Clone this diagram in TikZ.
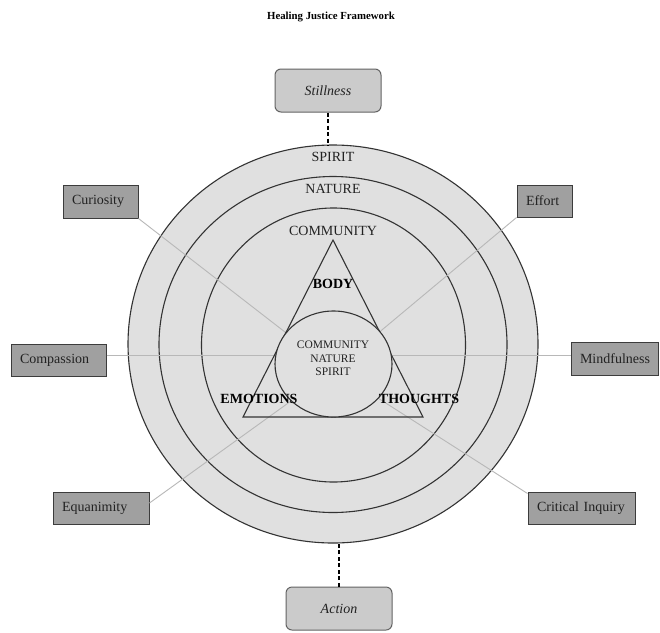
\documentclass[tikz,border=0pt]{standalone}
\usepackage{fontspec}
\setmainfont{Liberation Serif}
\definecolor{ringfill}{HTML}{E0E0E0}
\definecolor{ringdraw}{HTML}{333333}
\definecolor{boxfill}{HTML}{A0A0A0}
\definecolor{boxdraw}{HTML}{3C3C3C}
\definecolor{softfill}{HTML}{CBCBCB}
\definecolor{linkgray}{HTML}{B8B8B8}
\definecolor{txt}{HTML}{222222}
\tikzset{
  ring/.style={draw=ringdraw, fill=ringfill, line width=1.1pt},
  sqbox/.style={draw=boxdraw, fill=boxfill, line width=1pt, inner xsep=9pt, inner ysep=0pt,
     align=left, text=txt, font=\fontsize{14}{16}\selectfont},
  rbox/.style={draw=boxdraw!80, fill=softfill, line width=1pt, rounded corners=6pt, inner sep=0pt,
     text=txt, font=\fontsize{14}{16}\selectfont\itshape, minimum width=106pt, minimum height=43pt},
  link/.style={draw=linkgray, line width=0.9pt},
  dashlink/.style={draw=black, line width=2pt, dash pattern=on 4pt off 2.5pt},
  lbl/.style={text=txt, font=\fontsize{14}{16}\selectfont, inner sep=0pt},
  blbl/.style={text=black, font=\fontsize{14}{16}\selectfont\bfseries, inner sep=0pt}
}
\begin{document}
\begin{tikzpicture}[x=1pt,y=-1pt]
\useasboundingbox (0,0) rectangle (660,632);
\fill[white] (0,0) rectangle (660,632);
\node[font=\fontsize{10.8}{12}\selectfont\bfseries, inner sep=0pt] (title) at (331,17) {Healing Justice Framework};

% rings
\draw[ring] (333,344) ellipse [x radius=205, y radius=199];
\draw[ring] (333,344.5) ellipse [x radius=174, y radius=168];
\draw[ring] (333.5,345) ellipse [x radius=132, y radius=137];

% boxes
\node[sqbox, minimum width=75pt, minimum height=33pt, text width=57pt] (cur) at (100.5,201.5) {Curiosity};
\node[sqbox, minimum width=55pt, minimum height=32pt, text width=37pt] (eff) at (544.5,201) {Effort};
\node[sqbox, minimum width=95pt, minimum height=32pt, text width=77pt] (comp) at (58.5,360) {Compassion};
\node[sqbox, minimum width=87pt, minimum height=33pt, text width=69pt] (mind) at (614.5,358.5) {Mindfulness};
\node[sqbox, minimum width=96pt, minimum height=32pt, text width=78pt] (equ) at (101,508) {Equanimity};
\node[sqbox, minimum width=107pt, minimum height=32pt, text width=89pt] (crit) at (581.5,508) {Critical Inquiry};
\node[rbox] (still) at (328,90.5) {Stillness};
\node[rbox] (act) at (339,608.5) {Action};

% connectors
\coordinate (hub) at (334,370);
\coordinate (outertop) at (0,145.2);
\coordinate (outerbot) at (0,542.8);
\draw[link] (cur.south east) -- (hub);
\draw[link] (eff.south west) -- (hub);
\draw[link] ([yshift=5pt]equ.east) -- (hub);
\draw[link] ([yshift=-2pt]crit.north west) -- (hub);
\draw[link] ([yshift=5pt]comp.east) -- ([yshift=3.5pt]mind.west);
\draw[dashlink] (still.south) -- (still.south |- outertop);
\draw[dashlink] (act.north) -- (act.north |- outerbot);

% triangle and inner circle
\coordinate (tA) at (333,240);
\coordinate (tB) at (243,417);
\coordinate (tC) at (423,417);
\draw[draw=ringdraw, line width=1.1pt] (tA) -- (tB) -- (tC) -- cycle;
\draw[ring] (333.5,364) ellipse [x radius=58.5, y radius=53];

% labels
\node[lbl] (lspirit) at (333,157) {SPIRIT};
\node[lbl] (lnature) at (333,189) {NATURE};
\node[lbl] (lcomm) at (333,231) {COMMUNITY};
\node[blbl] (lbody) at (333,284) {BODY};
\node[blbl] (lemo) at (259,399) {EMOTIONS};
\node[blbl] (lthou) at (419,399) {THOUGHTS};
\node[text=txt, font=\fontsize{11.5}{13.5}\selectfont, align=center, inner sep=0pt] (inner) at (333,358.5) {COMMUNITY\\NATURE\\SPIRIT};
\end{tikzpicture}
\end{document}
